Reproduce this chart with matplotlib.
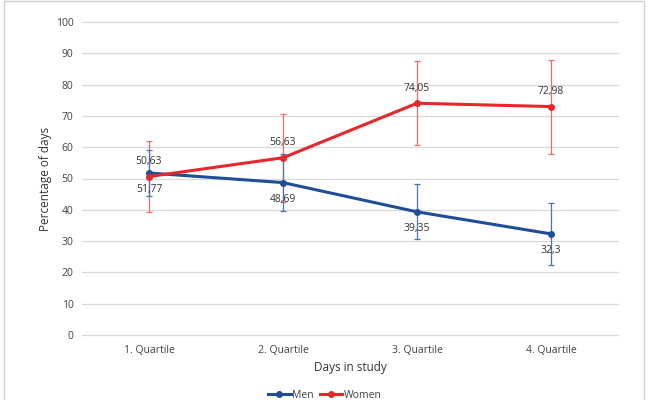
import matplotlib
matplotlib.use("Agg")
import matplotlib.pyplot as plt
from matplotlib.patches import Rectangle

categories = ["1. Quartile", "2. Quartile", "3. Quartile", "4. Quartile"]
men = [51.77, 48.69, 39.35, 32.3]
women = [50.63, 56.63, 74.05, 72.98]
men_err = [7.3, 9.0, 8.8, 9.8]
women_err = [11.3, 14.0, 13.5, 15.0]
men_labels = ["51,77", "48,69", "39,35", "32,3"]
women_labels = ["50,63", "56,63", "74,05", "72,98"]

plt.rcParams["font.family"] = ["Open Sans", "DejaVu Sans"]

blue = "#1f4e97"
red = "#e8262b"

fig = plt.figure(figsize=(6.49, 4.0), dpi=100)
ax = fig.add_axes([82 / 649, 1 - 335 / 400, 536 / 649, 313 / 400])

x = list(range(len(categories)))
ax.errorbar(x, women, yerr=women_err, fmt="none", ecolor="#ee6b6e",
            elinewidth=0.9, capsize=2.5, capthick=0.9, zorder=2)
ax.errorbar(x, men, yerr=men_err, fmt="none", ecolor="#4a74b4",
            elinewidth=0.9, capsize=2.5, capthick=0.9, zorder=2)
ax.plot(x, men, color=blue, lw=2.2, marker="o", ms=4, label="Men", zorder=3)
ax.plot(x, women, color=red, lw=2.2, marker="o", ms=4, label="Women", zorder=4)

for xi, v, t in zip(x, men, men_labels):
    ax.annotate(t, (xi, v), xytext=(0, -8), textcoords="offset points",
                ha="center", va="top", fontsize=7.5, color="#333333")
for xi, v, t in zip(x, women, women_labels):
    ax.annotate(t, (xi, v), xytext=(0, 7), textcoords="offset points",
                ha="center", va="bottom", fontsize=7.5, color="#333333")

ax.set_xlim(-0.5, 3.5)
ax.set_ylim(0, 100)
ax.set_yticks(range(0, 101, 10))
ax.set_xticks(x)
ax.set_xticklabels(categories)
ax.grid(axis="y", color="#d9d9d9", lw=0.9)
for gl in ax.get_ygridlines():
    gl.set_clip_on(False)
ax.set_axisbelow(True)
for s in ax.spines.values():
    s.set_visible(False)
ax.tick_params(length=0, labelsize=7.5, colors="#404040", pad=6)
ax.tick_params(axis="x", pad=7)
ax.set_xlabel("Days in study", fontsize=8.5, color="#333333", labelpad=4)
ax.set_ylabel("Percentage of days", fontsize=8.5, color="#333333", labelpad=3)

fig.legend(loc="center", bbox_to_anchor=(0.5, 1 - 395 / 400), ncol=2,
           frameon=False, fontsize=7.5, handlelength=2.2, columnspacing=0.6,
           handletextpad=0.1, labelcolor="#404040")

fig.patches.append(Rectangle((4 / 649, -0.01), 640 / 649, 1.02 - 5 / 400,
                             transform=fig.transFigure, fill=False,
                             edgecolor="#d0d0d0", lw=1))

fig.savefig("out.png", dpi=100)
